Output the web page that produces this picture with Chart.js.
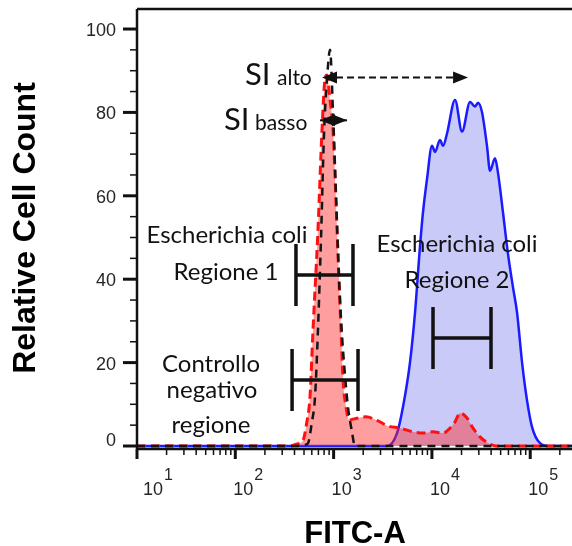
<!DOCTYPE html>
<html>
<head>
<meta charset="utf-8">
<script src="https://cdn.jsdelivr.net/npm/chart.js@4.4.1/dist/chart.umd.min.js"></script>
<style>
  html, body { margin: 0; padding: 0; background: #fff; }
  canvas { display: block; }
</style>
</head>
<body>
<canvas id="chart" width="572" height="546"></canvas>
<script>
// FITC-A intensity (x) vs relative cell count (y)

// E. coli, regione 2 (blue)
const region2X = [10, 3330, 3490, 4420, 5080, 5980, 6730, 7570, 8110, 8910, 10020, 10760,
  12080, 12970, 14260, 17180, 20230, 24430, 27420, 29440, 32360, 36310, 38990, 43850,
  46990, 52840, 59430, 66830, 73450, 82600, 92680, 104200, 125900, 158900, 266000];
const region2Y = [0, 0, 0, 3.1, 9.4, 20, 32, 48, 56, 64, 72, 70.5,
  73.4, 72, 75, 83, 75.4, 82.5, 81.4, 82.3, 80, 72, 66, 69,
  65.5, 56, 46, 38, 32, 20, 11, 4.6, 0.7, 0, 0];

// E. coli, regione 1 (red dashed)
const region1X = [10, 360, 425, 489, 532, 575, 617, 693, 762, 817, 857, 919, 986, 1083,
  1189, 1247, 1337, 1435, 1611, 2136, 2833, 3575, 4730, 6425, 8110, 10260, 12970,
  15280, 17180, 19320, 22750, 26180, 30830, 37230, 45920, 266000];
const region1Y = [0, 0, 0.5, 1.4, 5.5, 11.8, 27.8, 51.8, 75.8, 88, 89, 83, 75.8, 52,
  27.8, 15.8, 9.4, 6.2, 6.5, 7, 6, 4.8, 4.3, 3.4, 3.1, 3.4, 3.1,
  4.3, 5.8, 7.9, 6.7, 4.3, 2.2, 0.7, 0, 0];

// controllo negativo (black dashed)
const controlX = [10, 455, 512, 550, 599, 647, 693, 745, 799, 857, 919, 986, 1058, 1135,
  1208, 1275, 1399, 1527, 1649, 266000];
const controlY = [0, 0, 0.3, 0.7, 5.5, 11.8, 27.8, 50, 75, 88, 95, 80, 60, 40,
  27.8, 20, 9.4, 3.8, 0, 0];

const yMajor = [0, 20, 40, 60, 80, 100];
const xExponents = [1, 2, 3, 4, 5];

// gates drawn as H bars: FITC range and height
const gates = [
  { from: 414, to: 1574, y: 41.0 },     // regione 1
  { from: 10260, to: 39900, y: 25.9 },  // regione 2
  { from: 378, to: 1771, y: 15.8 },     // controllo
];

// separation index arrows
const siAlto = { from: 762, to: 23300, y: 88.4 };
const siBasso = { from: 728, to: 1368, y: 78.1 };

const notes = [
  { text: 'Escherichia coli', x: 227, y: 243 },
  { text: 'Regione 1', x: 226, y: 280 },
  { text: 'Escherichia coli', x: 457, y: 252 },
  { text: 'Regione 2', x: 457, y: 288 },
  { text: 'Controllo', x: 211, y: 372 },
  { text: 'negativo', x: 212, y: 398 },
  { text: 'regione', x: 211, y: 433 },
];

const pts = (xs, ys) => xs.map((v, i) => ({ x: v, y: ys[i] }));

function arrowHead(ctx, tip, y, dir) {
  ctx.beginPath();
  ctx.moveTo(tip, y);
  ctx.lineTo(tip - dir * 15, y - 6);
  ctx.lineTo(tip - dir * 15, y + 6);
  ctx.closePath();
  ctx.fill();
}

const frame = {
  id: 'frame',
  afterDatasetsDraw(chart) {
    const { ctx, chartArea: a, scales: { x, y } } = chart;
    ctx.save();
    ctx.strokeStyle = '#111';
    ctx.fillStyle = '#111';

    // gates
    ctx.lineWidth = 3.5;
    gates.forEach(g => {
      const x0 = x.getPixelForValue(g.from), x1 = x.getPixelForValue(g.to);
      const yy = y.getPixelForValue(g.y);
      ctx.beginPath();
      ctx.moveTo(x0, yy - 31); ctx.lineTo(x0, yy + 31);
      ctx.moveTo(x1, yy - 31); ctx.lineTo(x1, yy + 31);
      ctx.moveTo(x0, yy); ctx.lineTo(x1, yy);
      ctx.stroke();
    });

    // SI arrows
    let x0 = x.getPixelForValue(siAlto.from), x1 = x.getPixelForValue(siAlto.to);
    let yy = y.getPixelForValue(siAlto.y);
    ctx.lineWidth = 2;
    ctx.setLineDash([7, 4]);
    ctx.beginPath(); ctx.moveTo(x0 + 14, yy); ctx.lineTo(x1 - 14, yy); ctx.stroke();
    ctx.setLineDash([]);
    arrowHead(ctx, x0, yy, -1);
    arrowHead(ctx, x1, yy, 1);
    x0 = x.getPixelForValue(siBasso.from); x1 = x.getPixelForValue(siBasso.to);
    yy = y.getPixelForValue(siBasso.y);
    ctx.beginPath(); ctx.moveTo(x0, yy); ctx.lineTo(x1, yy); ctx.stroke();
    arrowHead(ctx, x0, yy, -1);
    arrowHead(ctx, x1, yy, 1);

    // SI labels
    ctx.textBaseline = 'alphabetic';
    ctx.textAlign = 'left';
    ctx.font = '31px Lato';
    ctx.fillText('SI', 245, 85);
    ctx.fillText('SI', 224, 130);
    ctx.font = '21px Lato';
    ctx.fillText('alto', 277, 85);
    ctx.fillText('basso', 255, 130);

    // region notes
    ctx.textAlign = 'center';
    ctx.font = '24px Lato';
    notes.forEach(n => ctx.fillText(n.text, n.x, n.y));

    // frame lines
    ctx.lineWidth = 2.5;
    ctx.beginPath();
    ctx.moveTo(a.left, a.top); ctx.lineTo(a.right, a.top);
    ctx.moveTo(a.left, a.top); ctx.lineTo(a.left, a.bottom);
    ctx.moveTo(a.left, a.bottom); ctx.lineTo(a.right, a.bottom);
    ctx.stroke();

    // y ticks
    for (let v = 0; v <= 100; v += 5) {
      const py = y.getPixelForValue(v);
      const major = yMajor.includes(v);
      ctx.lineWidth = major ? 3 : 1.5;
      ctx.beginPath();
      ctx.moveTo(a.left - (major ? 14 : 7), py);
      ctx.lineTo(a.left, py);
      ctx.stroke();
    }
    ctx.fillStyle = '#262626';
    ctx.font = '18px "Liberation Sans"';
    ctx.textAlign = 'right';
    ctx.textBaseline = 'middle';
    yMajor.forEach(v => {
      const py = y.getPixelForValue(v) + (v === 0 ? -5 : 2);
      ctx.fillText(String(v), a.left - 21, py);
    });

    // x ticks
    xExponents.forEach(k => {
      for (let m = 1; m <= 9; m++) {
        const v = m * Math.pow(10, k);
        if (v > x.max) break;
        const px = x.getPixelForValue(v);
        ctx.lineWidth = m === 1 ? 3 : 1.5;
        ctx.beginPath();
        ctx.moveTo(px, a.bottom);
        ctx.lineTo(px, a.bottom + (m === 1 ? 10 : 6));
        ctx.stroke();
      }
    });
    ctx.textAlign = 'left';
    ctx.textBaseline = 'alphabetic';
    xExponents.forEach((k, i) => {
      const px = x.getPixelForValue(Math.pow(10, k)) + (i === 0 ? 6 : -2);
      ctx.font = '18px "Liberation Sans"';
      ctx.fillText('10', px, 495);
      const w = ctx.measureText('10').width;
      ctx.font = '16px "Liberation Sans"';
      ctx.fillText(String(k), px + w + 1, 480);
    });

    // axis titles
    ctx.fillStyle = '#000';
    ctx.font = 'bold 31px "Liberation Sans"';
    ctx.textAlign = 'center';
    ctx.fillText('FITC-A', 355, 543);
    ctx.font = 'bold 32px "Liberation Sans"';
    ctx.translate(35, 228);
    ctx.rotate(-Math.PI / 2);
    ctx.fillText('Relative Cell Count', 0, 0);
    ctx.restore();
  }
};

new Chart(document.getElementById('chart'), {
  type: 'line',
  data: {
    datasets: [
      {
        label: 'Controllo negativo',
        data: pts(controlX, controlY),
        borderColor: '#151515',
        borderWidth: 2.5,
        borderDash: [8, 6],
        fill: false,
      },
      {
        label: 'Escherichia coli regione 1',
        data: pts(region1X, region1Y),
        borderColor: '#ff1010',
        borderWidth: 3,
        borderDash: [9, 5],
        backgroundColor: 'rgba(255,40,40,0.45)',
        fill: 'origin',
      },
      {
        label: 'Escherichia coli regione 2',
        data: pts(region2X, region2Y),
        borderColor: '#1b1bff',
        borderWidth: 2.5,
        backgroundColor: 'rgba(90,90,235,0.32)',
        fill: 'origin',
      },
    ]
  },
  options: {
    responsive: false,
    animation: false,
    devicePixelRatio: 1,
    layout: { padding: { left: 137, top: 9, right: 0, bottom: 97 } },
    elements: {
      point: { radius: 0 },
      line: { cubicInterpolationMode: 'monotone' }
    },
    plugins: { legend: { display: false }, tooltip: { enabled: false } },
    scales: {
      x: { type: 'logarithmic', min: 10, max: 266000, display: false },
      y: { type: 'linear', min: -0.72, max: 104.8, display: false }
    }
  },
  plugins: [frame]
});
</script>
</body>
</html>
